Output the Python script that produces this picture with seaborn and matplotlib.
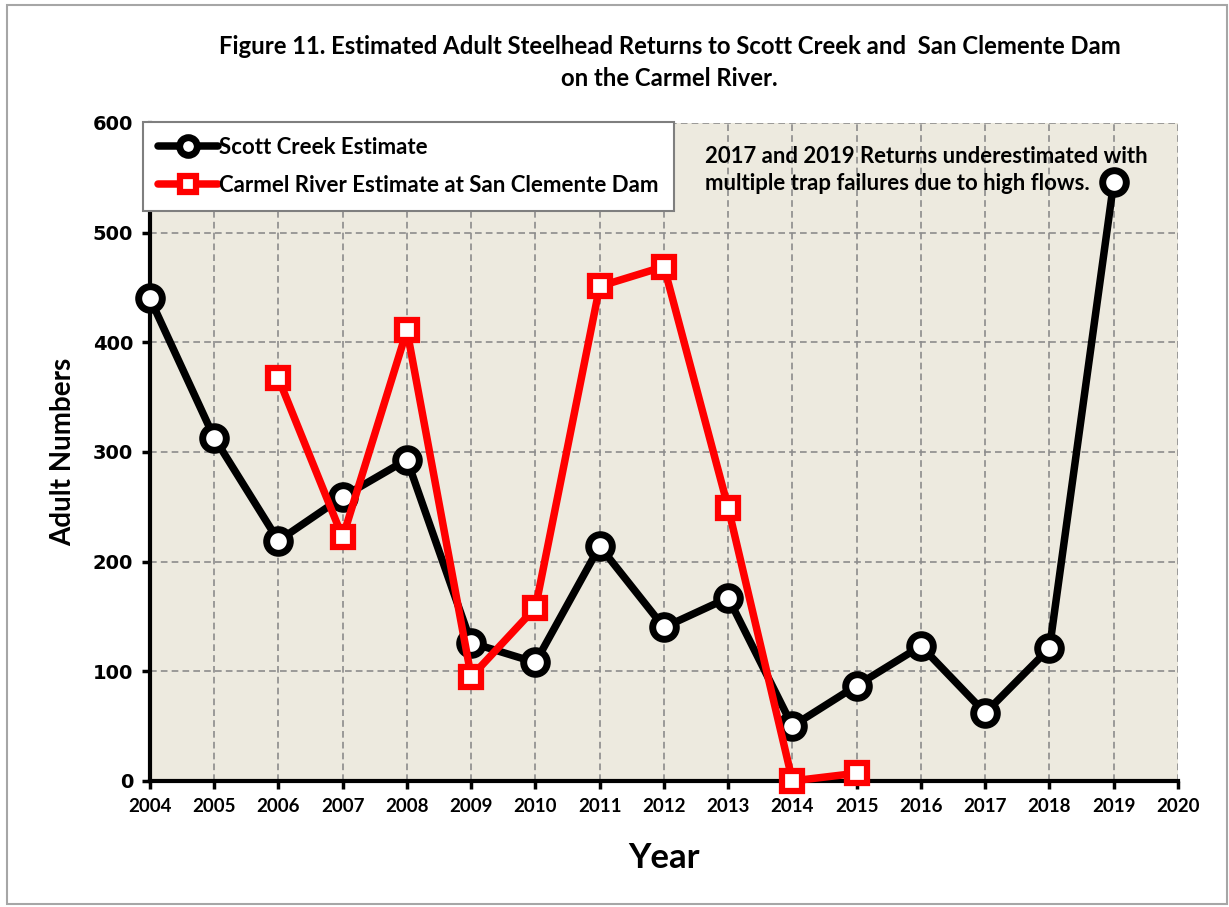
import numpy as np
import pandas as pd
import matplotlib
matplotlib.use("Agg")
import matplotlib.pyplot as plt
from matplotlib.patches import Rectangle
import seaborn as sns

# data
scott_years = [2004, 2005, 2006, 2007, 2008, 2009, 2010, 2011, 2012, 2013,
               2014, 2015, 2016, 2017, 2018, 2019]
scott_counts = [440, 313, 219, 259, 293, 126, 108, 214, 140, 167,
                50, 87, 123, 62, 121, 546]
carmel_years = [2006, 2007, 2008, 2009, 2010, 2011, 2012, 2013, 2014, 2015]
carmel_counts = [367, 222, 411, 95, 158, 451, 469, 249, 0, 7]
year_ticks = list(range(2004, 2021))
count_ticks = [0, 100, 200, 300, 400, 500, 600]

sns.set_theme(style="white")
narrow = ["Lato", "DejaVu Sans"]
plt.rcParams["font.family"] = narrow
plt.rcParams["text.color"] = "black"
plt.rcParams["axes.labelcolor"] = "black"
plt.rcParams["xtick.color"] = "black"
plt.rcParams["ytick.color"] = "black"

fig = plt.figure(figsize=(12.29, 9.07), dpi=100)
ax = fig.add_axes([0.122, 0.139, 0.8365, 0.7255])
ax.set_facecolor("#EDEADF")

scott = pd.DataFrame({"Year": scott_years, "Adults": scott_counts})
carmel = pd.DataFrame({"Year": carmel_years, "Adults": carmel_counts})

sns.lineplot(data=scott, x="Year", y="Adults", ax=ax, color="black", lw=5.4,
             marker="o", markersize=17, markeredgewidth=5, markerfacecolor="white",
             markeredgecolor="black", label="Scott Creek Estimate", zorder=4)
sns.lineplot(data=carmel, x="Year", y="Adults", ax=ax, color="#FF0000", lw=5.4,
             marker="s", markersize=14.5, markeredgewidth=4.5, markerfacecolor="white",
             markeredgecolor="#FF0000", label="Carmel River Estimate at San Clemente Dam",
             zorder=5)
for ln in ax.lines:
    ln.set_solid_joinstyle("round")
    ln.set_clip_on(False)

ax.set_xlim(2004, 2020)
ax.set_ylim(0, 600)
ax.set_xticks(year_ticks)
ax.set_yticks(count_ticks)
ax.set_xticklabels([str(y) for y in year_ticks], fontsize=13.5, fontweight="bold")
ax.set_yticklabels([str(c) for c in count_ticks], fontsize=14, fontweight="bold",
                   family="DejaVu Sans")
ax.grid(True, color="#8C8C8C", linestyle=(0, (4, 2.5)), linewidth=1.2)
ax.set_axisbelow(True)
for side in ["top", "right"]:
    ax.spines[side].set_visible(False)
for side in ["left", "bottom"]:
    ax.spines[side].set_color("black")
    ax.spines[side].set_linewidth(3)
    ax.spines[side].set_zorder(3)
ax.tick_params(axis="both", direction="out", length=6, width=2.5, color="black",
               pad=6, bottom=True, left=True)

ax.set_xlabel("Year", fontsize=25, fontweight="bold", labelpad=20)
ax.set_ylabel("Adult Numbers", fontsize=20, fontweight="bold", labelpad=12)

leg = ax.legend(loc="upper left", bbox_to_anchor=(-0.007, 1.002), borderaxespad=0,
                fancybox=False, framealpha=1, edgecolor="#7F7F7F", handlelength=2.7,
                handletextpad=0.05, borderpad=0.7, labelspacing=0.75, markerscale=0.75,
                prop={"weight": "bold", "size": 16, "family": narrow})
leg.get_frame().set_linewidth(1.5)
leg.set_zorder(6)

ax.text(2012.64, 557, "2017 and 2019 Returns underestimated with\nmultiple trap failures due to high flows.",
        fontsize=15.9, fontweight="bold", va="center", ha="left", linespacing=1.4, zorder=2)

fig.text(0.545, 0.949, "Figure 11. Estimated Adult Steelhead Returns to Scott Creek and  San Clemente Dam",
         ha="center", va="center", fontsize=17.2, fontweight="bold")
fig.text(0.545, 0.913, "on the Carmel River.", ha="center", va="center",
         fontsize=17.2, fontweight="bold")

fig.patches.append(Rectangle((0.006, 0.003), 0.992, 0.991, transform=fig.transFigure,
                             fill=False, edgecolor="#A6A6A6", linewidth=1.5))

fig.savefig("out.png", dpi=100)
